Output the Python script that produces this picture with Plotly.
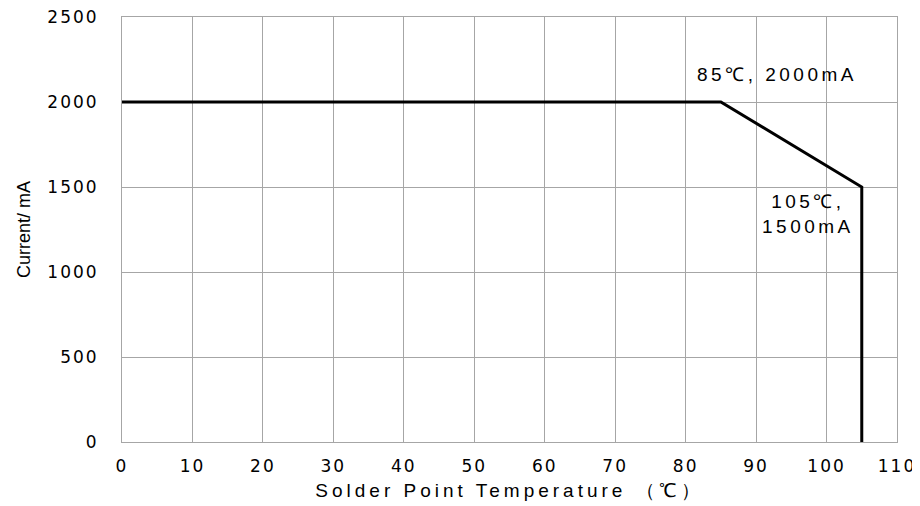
import plotly.graph_objects as go

temp_c = [0, 85, 105, 105]
current_ma = [2000, 2000, 1500, 0]
x_ticks = [0, 10, 20, 30, 40, 50, 60, 70, 80, 90, 100, 110]
x_tick_labels = ["0", "10", "20", "30", "40", "50", "60", "70", "80", "90", "100", "110"]
y_ticks = [0, 500, 1000, 1500, 2000, 2500]
y_tick_labels = ["0", "500", "1000", "1500", "2000", "2500"]


def spaced(s, px):
    return f'<span style="letter-spacing:{px}px">{s}</span>'


fig = go.Figure()
fig.add_trace(go.Scatter(x=temp_c, y=current_ma, mode="lines",
                         line=dict(color="black", width=3), showlegend=False,
                         hoverinfo="skip"))

ann_font = dict(family="Liberation Sans, Arial", size=19, color="black")
fig.add_annotation(x=92.9, y=2159, text=spaced("85℃, 2000mA", 3.5), showarrow=False,
                   font=ann_font)
fig.add_annotation(x=97.4, y=1341, text=spaced("105℃,", 3.5) + "<br>" + spaced("1500mA", 3.5),
                   showarrow=False, align="center", font=ann_font)

tick_font = dict(family="DejaVu Sans, Verdana", size=17, color="black")
grid = "#a6a6a6"
fig.update_xaxes(range=[0, 110], tickvals=x_ticks,
                 ticktext=[spaced(t, 2) for t in x_tick_labels],
                 showgrid=True, gridcolor=grid, gridwidth=1, zeroline=False,
                 showline=True, linecolor=grid, mirror=True, tickfont=tick_font,
                 ticks="", ticklabelstandoff=9, automargin=False,
                 ticklabeloverflow="allow",
                 title=dict(text=spaced("Solder Point Temperature （℃）", 4),
                            font=dict(family="Liberation Sans, Arial", size=19, color="black"),
                            standoff=8))
fig.update_yaxes(range=[0, 2500], tickvals=y_ticks,
                 ticktext=[spaced(t, 2) for t in y_tick_labels],
                 showgrid=True, gridcolor=grid, gridwidth=1, zeroline=False,
                 showline=True, linecolor=grid, mirror=True, tickfont=tick_font,
                 ticks="", ticklabelstandoff=19, automargin=False,
                 ticklabeloverflow="allow",
                 title=dict(text="Current/ mA",
                            font=dict(family="Liberation Sans, Arial", size=18, color="black"),
                            standoff=12))

# the page body adds an 8px offset, so the figure is sized to fit the window
fig.update_layout(width=912, height=498, plot_bgcolor="white", paper_bgcolor="white",
                  margin=dict(l=114, r=23, t=9, b=64, autoexpand=False))

fig.write_html("out.html")
